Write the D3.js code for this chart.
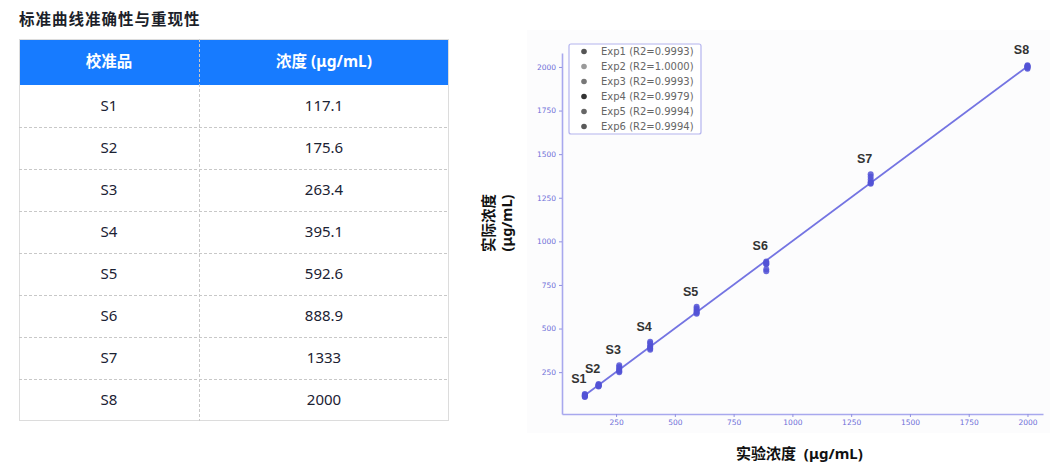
<!DOCTYPE html>
<html>
<head>
<meta charset="utf-8">
<script src="https://cdn.jsdelivr.net/npm/d3@7"></script>
<style>
  body { margin: 0; background: #fff; }
  svg { display: block; font-family: "Noto Sans", "Noto Sans CJK SC", sans-serif; }
</style>
</head>
<body>
<script>
const samples = ['S1', 'S2', 'S3', 'S4', 'S5', 'S6', 'S7', 'S8']
const nominal = [117.1, 175.6, 263.4, 395.1, 592.6, 888.9, 1333, 2000]
const nominalText = ['117.1', '175.6', '263.4', '395.1', '592.6', '888.9', '1333', '2000']

const expNames = ['Exp1', 'Exp2', 'Exp3', 'Exp4', 'Exp5', 'Exp6']
const expR2 = ['0.9993', '1.0000', '0.9993', '0.9979', '0.9994', '0.9994']
const expLegendColors = ['#555', '#9a9a9a', '#777', '#333', '#666', '#595959']

// measured (actual) concentration per experiment, one value per sample
const exp1 = [120, 178, 270, 400, 605, 878, 1355, 2005]
const exp2 = [117, 175, 262, 395, 595, 885, 1340, 2000]
const exp3 = [113, 172, 280, 415, 615, 872, 1335, 1995]
const exp4 = [125, 182, 290, 425, 625, 828, 1385, 2010]
const exp5 = [110, 170, 255, 385, 590, 868, 1330, 1990]
const exp6 = [108, 168, 250, 378, 585, 840, 1370, 2002]
const experiments = [exp1, exp2, exp3, exp4, exp5, exp6]

const tickVals = [250, 500, 750, 1000, 1250, 1500, 1750, 2000]

const width = 1059
const height = 469

const svg = d3.select('body')
  .append('svg')
  .attr('width', width)
  .attr('height', height)

// ---- title
svg.append('text')
  .attr('x', 19)
  .attr('y', 25)
  .attr('font-size', 15.5)
  .attr('font-weight', 700)
  .attr('letter-spacing', 1)
  .attr('fill', '#1c1f2a')
  .text('标准曲线准确性与重现性')

// ---- table
const tLeft = 19, tRight = 449, colSplit = 199
const headTop = 39, headH = 46, rowH = 42
const tBottom = headTop + headH + rowH * samples.length

const table = svg.append('g')

table.append('rect')
  .attr('x', tLeft).attr('y', headTop)
  .attr('width', tRight - tLeft).attr('height', headH)
  .attr('fill', '#177bff')

table.append('rect')
  .attr('x', tLeft + 0.5).attr('y', headTop + 0.5)
  .attr('width', tRight - tLeft - 1).attr('height', tBottom - headTop - 1)
  .attr('fill', 'none')
  .attr('stroke', '#dcdcdc')

// dashed column divider
table.append('line')
  .attr('x1', colSplit + 0.5).attr('x2', colSplit + 0.5)
  .attr('y1', headTop).attr('y2', tBottom)
  .attr('stroke', '#c8c8c8')
  .attr('stroke-dasharray', '3,2')

// dashed row dividers
table.selectAll('line.row')
  .data(samples.slice(1))
  .enter()
  .append('line')
  .attr('class', 'row')
  .attr('x1', tLeft).attr('x2', tRight)
  .attr('y1', (d, i) => headTop + headH + rowH * (i + 1) + 0.5)
  .attr('y2', (d, i) => headTop + headH + rowH * (i + 1) + 0.5)
  .attr('stroke', '#c8c8c8')
  .attr('stroke-dasharray', '3,2')

const headers = ['校准品', '浓度 (μg/mL)']
table.selectAll('text.head')
  .data(headers)
  .enter()
  .append('text')
  .attr('class', 'head')
  .attr('x', (d, i) => i === 0 ? (tLeft + colSplit) / 2 : (colSplit + tRight) / 2)
  .attr('y', headTop + headH / 2)
  .attr('dy', '0.35em')
  .attr('text-anchor', 'middle')
  .attr('font-size', 15.5)
  .attr('font-weight', 700)
  .attr('fill', '#fff')
  .text(d => d)

const rows = table.selectAll('g.r')
  .data(samples)
  .enter()
  .append('g')
  .attr('class', 'r')

rows.append('text')
  .attr('x', (tLeft + colSplit) / 2)
  .attr('y', (d, i) => headTop + headH + rowH * i + rowH / 2)
  .attr('dy', '0.35em')
  .attr('text-anchor', 'middle')
  .attr('font-size', 15)
  .attr('fill', '#1b2233')
  .text(d => d)

rows.append('text')
  .attr('x', (colSplit + tRight) / 2)
  .attr('y', (d, i) => headTop + headH + rowH * i + rowH / 2)
  .attr('dy', '0.35em')
  .attr('text-anchor', 'middle')
  .attr('font-size', 15)
  .attr('fill', '#1b2233')
  .text((d, i) => nominalText[i])

// ---- chart
svg.append('rect')
  .attr('x', 527).attr('y', 30)
  .attr('width', 523).attr('height', 403)
  .attr('fill', '#fcfcfd')

const x = d3.scaleLinear().domain([20, 2066]).range([562, 1043])
const y = d3.scaleLinear().domain([10, 2080]).range([414, 53])

const axisColor = '#a8a8ee'
const tickTextColor = '#6e6ed8'

const gx = svg.append('g')
  .attr('transform', `translate(0,${y.range()[0]})`)
  .call(d3.axisBottom(x).tickValues(tickVals).tickFormat(d3.format('d'))
    .tickSize(3).tickSizeOuter(0).tickPadding(3))
const gy = svg.append('g')
  .attr('transform', `translate(${x.range()[0]},0)`)
  .call(d3.axisLeft(y).tickValues(tickVals).tickFormat(d3.format('d'))
    .tickSize(3).tickSizeOuter(0).tickPadding(3))

;[gx, gy].forEach(g => {
  g.select('.domain').attr('stroke', axisColor).attr('stroke-width', 1.6)
  g.selectAll('.tick line').attr('stroke', '#9090e0')
  g.selectAll('.tick text')
    .attr('fill', tickTextColor)
    .attr('font-size', 7.5)
    .attr('font-family', '"DejaVu Sans", sans-serif')
})

// fitted line through all experiment points
const allPts = []
experiments.forEach(e => e.forEach((v, i) => allPts.push([nominal[i], v])))
const mx = d3.mean(allPts, d => d[0])
const my = d3.mean(allPts, d => d[1])
const slope = d3.sum(allPts, d => (d[0] - mx) * (d[1] - my)) / d3.sum(allPts, d => (d[0] - mx) ** 2)
const icpt = my - slope * mx
const xs = d3.extent(nominal)

svg.append('line')
  .attr('x1', x(xs[0])).attr('y1', y(icpt + slope * xs[0]))
  .attr('x2', x(xs[1])).attr('y2', y(icpt + slope * xs[1]))
  .attr('stroke', '#7474e2')
  .attr('stroke-width', 1.8)

// points
svg.append('g')
  .selectAll('circle')
  .data(allPts)
  .enter()
  .append('circle')
  .attr('cx', d => x(d[0]))
  .attr('cy', d => y(d[1]))
  .attr('r', 3)
  .attr('fill', '#5252d6')
  .attr('fill-opacity', 0.85)

// sample labels
svg.append('g')
  .selectAll('text')
  .data(samples)
  .enter()
  .append('text')
  .attr('x', (d, i) => x(nominal[i]) - 6)
  .attr('y', (d, i) => y(d3.max(experiments, e => e[i])) - 11)
  .attr('text-anchor', 'middle')
  .attr('font-size', 12.5)
  .attr('font-weight', 700)
  .attr('font-family', '"Liberation Sans", Arial, sans-serif')
  .attr('fill', '#333')
  .text(d => d)

// legend
const lg = svg.append('g')
lg.append('rect')
  .attr('x', 569).attr('y', 44)
  .attr('width', 132).attr('height', 90)
  .attr('rx', 2)
  .attr('fill', '#fff')
  .attr('stroke', '#b4b4ee')
  .attr('stroke-width', 1.2)

const items = lg.selectAll('g.item')
  .data(expNames)
  .enter()
  .append('g')
  .attr('class', 'item')
  .attr('transform', (d, i) => `translate(0,${51.5 + i * 15})`)

items.append('circle')
  .attr('cx', 584).attr('cy', 0).attr('r', 2.8)
  .attr('fill', (d, i) => expLegendColors[i])

items.append('text')
  .attr('x', 601).attr('y', 0).attr('dy', '0.35em')
  .attr('font-size', 10)
  .attr('font-family', '"DejaVu Sans", sans-serif')
  .attr('fill', '#666')
  .text((d, i) => `${d} (R2=${expR2[i]})`)

// axis titles
svg.append('text')
  .attr('x', 736).attr('y', 459)
  .attr('font-size', 15)
  .attr('font-weight', 700)
  .attr('fill', '#111')
  .style('white-space', 'pre')
  .text('实验浓度  (μg/mL)')

const yt = svg.append('text')
  .attr('transform', 'translate(494,223) rotate(-90)')
  .attr('text-anchor', 'middle')
  .attr('font-size', 14.5)
  .attr('font-weight', 700)
  .attr('fill', '#111')
yt.append('tspan').attr('x', 0).attr('dy', 0).text('实际浓度')
yt.append('tspan').attr('x', 0).attr('dy', 18).text('(μg/mL)')
</script>
</body>
</html>
